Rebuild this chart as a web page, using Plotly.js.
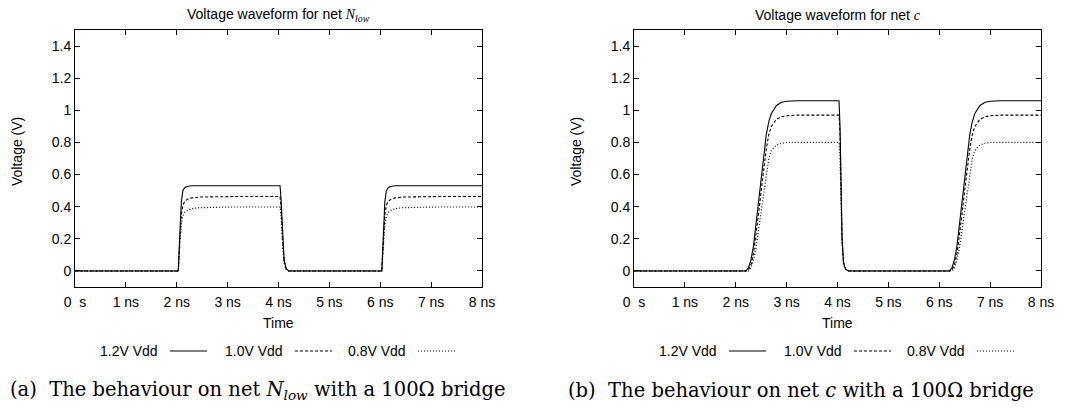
<!DOCTYPE html>
<html>
<head>
<meta charset="utf-8">
<script src="https://cdn.plot.ly/plotly-3.0.1.min.js"></script>
<style>html,body{margin:0;padding:0;background:#fff}#chart{width:1079px;height:410px}</style>
</head>
<body>
<div id="chart"></div>
<script>
// ---- Data ----
const seriesNames = ['1.2V Vdd', '1.0V Vdd', '0.8V Vdd'];
const tickVals = [0, 1, 2, 3, 4, 5, 6, 7, 8];
const tickText = ['0\u00a0\u00a0s', '1 ns', '2 ns', '3 ns', '4 ns', '5 ns', '6 ns', '7 ns', '8 ns'];
const yTickVals = [0, 0.2, 0.4, 0.6, 0.8, 1, 1.2, 1.4];
const yTickText = ['0', '0.2', '0.4', '0.6', '0.8', '1', '1.2', '1.4'];

// Net N_low (time in ns, voltage in V)
const timeLow = [0, 2.03, 2.06, 2.09, 2.12, 2.16, 2.22, 2.3, 2.45, 2.7, 3.1, 4.03, 4.05, 4.08, 4.11, 4.15, 4.2,
                 6.03, 6.06, 6.09, 6.12, 6.16, 6.22, 6.3, 6.45, 6.7, 7.1, 8.0];
const low12 = [0, 0, 0.22, 0.43, 0.50, 0.52, 0.527, 0.53, 0.53, 0.53, 0.53, 0.53, 0.45, 0.22, 0.07, 0.015, 0,
               0, 0.22, 0.43, 0.50, 0.52, 0.527, 0.53, 0.53, 0.53, 0.53, 0.53];
const low10 = [0, 0, 0.20, 0.35, 0.41, 0.435, 0.448, 0.455, 0.46, 0.462, 0.463, 0.463, 0.40, 0.20, 0.06, 0.012, 0,
               0, 0.20, 0.35, 0.41, 0.435, 0.448, 0.455, 0.46, 0.462, 0.463, 0.463];
const low08 = [0, 0, 0.17, 0.29, 0.34, 0.365, 0.38, 0.388, 0.394, 0.397, 0.398, 0.398, 0.34, 0.17, 0.05, 0.01, 0,
               0, 0.17, 0.29, 0.34, 0.365, 0.38, 0.388, 0.394, 0.397, 0.398, 0.398];

// Net c
const timeC = [0, 2.2, 2.25, 2.3, 2.35, 2.4, 2.45, 2.5, 2.55, 2.6, 2.65, 2.7, 2.8, 2.9, 3.0, 3.2, 3.5,
               4.03, 4.05, 4.07, 4.09, 4.12, 4.16, 4.22,
               6.2, 6.25, 6.3, 6.35, 6.4, 6.45, 6.5, 6.55, 6.6, 6.65, 6.7, 6.8, 6.9, 7.0, 7.2, 7.5, 8.0];
const c12 = [0, 0, 0.02, 0.07, 0.16, 0.30, 0.45, 0.60, 0.74, 0.85, 0.93, 0.98, 1.03, 1.05, 1.056, 1.06, 1.06,
             1.06, 0.90, 0.50, 0.20, 0.05, 0.01, 0,
             0, 0.02, 0.07, 0.16, 0.30, 0.45, 0.60, 0.74, 0.85, 0.93, 0.98, 1.03, 1.05, 1.056, 1.06, 1.06, 1.06];
const c10 = [0, 0, 0.005, 0.04, 0.11, 0.22, 0.36, 0.50, 0.64, 0.76, 0.85, 0.90, 0.945, 0.96, 0.966, 0.97, 0.97,
             0.97, 0.84, 0.47, 0.19, 0.05, 0.01, 0,
             0, 0.005, 0.04, 0.11, 0.22, 0.36, 0.50, 0.64, 0.76, 0.85, 0.90, 0.945, 0.96, 0.966, 0.97, 0.97, 0.97];
const c08 = [0, 0, 0, 0.02, 0.07, 0.15, 0.26, 0.38, 0.50, 0.61, 0.70, 0.75, 0.785, 0.795, 0.80, 0.80, 0.80,
             0.80, 0.70, 0.40, 0.16, 0.04, 0.01, 0,
             0, 0, 0.02, 0.07, 0.15, 0.26, 0.38, 0.50, 0.61, 0.70, 0.75, 0.785, 0.795, 0.80, 0.80, 0.80, 0.80];

// ---- Styles ----
const W = 1079, H = 410;
const px = v => v / W;
const py = v => (H - v) / H;
const dashes = ['solid', '3px,2px', '1px,2px'];
const widths = [1.1, 1.1, 1.2];
const sans = "'Liberation Sans', Arial, sans-serif";
const serif = "'DejaVu Serif', serif";
const fs = 14;

function mk(x, y, i, xa, ya) {
  return {x: x, y: y, xaxis: xa, yaxis: ya, type: 'scatter', mode: 'lines', name: seriesNames[i],
          showlegend: false, line: {color: '#000', width: widths[i], dash: dashes[i]}};
}
const traces = [
  mk(timeLow, low12, 0, 'x', 'y'), mk(timeLow, low10, 1, 'x', 'y'), mk(timeLow, low08, 2, 'x', 'y'),
  mk(timeC, c12, 0, 'x2', 'y2'), mk(timeC, c10, 1, 'x2', 'y2'), mk(timeC, c08, 2, 'x2', 'y2')
];

const leftDom = [75, 482], rightDom = [634, 1041];
const plotTop = 30, plotBottom = 287;
function xax(dom, anchor) {
  return {domain: [px(dom[0]), px(dom[1])], anchor: anchor, range: [0, 8], tickvals: tickVals, ticktext: tickText,
          ticks: 'inside', ticklen: 5, tickcolor: '#000', showline: true, linecolor: '#000', linewidth: 1,
          mirror: 'ticks', showgrid: false, zeroline: false, tickfont: {family: sans, size: fs, color: '#000'},
          ticklabelstandoff: 2, fixedrange: true};
}
function yax(anchor) {
  return {domain: [py(plotBottom), py(plotTop)], anchor: anchor, range: [-0.1, 1.5], tickvals: yTickVals, ticktext: yTickText,
          ticks: 'inside', ticklen: 5, tickcolor: '#000', showline: true, linecolor: '#000', linewidth: 1,
          mirror: 'ticks', showgrid: false, zeroline: false, tickfont: {family: sans, size: fs, color: '#000'},
          fixedrange: true};
}

const annotations = [];
const shapes = [];
function panel(dom, captionCenter, titleHtml, captionHtml) {
  const cx = (dom[0] + dom[1]) / 2;
  const off = dom[0] - 75;
  annotations.push({xref: 'paper', yref: 'paper', x: px(cx), y: py(15), text: titleHtml, showarrow: false,
                    xanchor: 'center', yanchor: 'middle', font: {family: sans, size: fs, color: '#000'}});
  annotations.push({xref: 'paper', yref: 'paper', x: px(cx), y: py(323), text: 'Time', showarrow: false,
                    xanchor: 'center', yanchor: 'middle', font: {family: sans, size: fs, color: '#000'}});
  annotations.push({xref: 'paper', yref: 'paper', x: px(17 + off), y: py(152), text: 'Voltage (V)', textangle: -90,
                    showarrow: false, xanchor: 'center', yanchor: 'middle', font: {family: sans, size: fs, color: '#000'}});
  annotations.push({xref: 'paper', yref: 'paper', x: px(captionCenter), y: py(390), text: captionHtml, showarrow: false,
                    xanchor: 'center', yanchor: 'middle', font: {family: serif, size: 19.5, color: '#000'}});
  const textRight = [160, 285, 408];
  for (let i = 0; i < 3; i++) {
    annotations.push({xref: 'paper', yref: 'paper', x: px(textRight[i] + off), y: py(351), text: seriesNames[i],
                      showarrow: false, xanchor: 'right', yanchor: 'middle', font: {family: sans, size: fs, color: '#000'}});
    shapes.push({type: 'line', xref: 'paper', yref: 'paper', x0: px(textRight[i] + off + 10), x1: px(textRight[i] + off + 47),
                 y0: py(351), y1: py(351), line: {color: '#000', width: widths[i], dash: dashes[i]}});
  }
}
panel(leftDom, 257, 'Voltage waveform for net <span style="font-family:\'Liberation Serif\',serif"><i>N<sub>low</sub></i></span>',
      '(a)  The behaviour on net <i>N<sub>low</sub></i> with a 100Ω bridge');
panel(rightDom, 801, 'Voltage waveform for net <span style="font-family:\'Liberation Serif\',serif"><i>c</i></span>',
      '(b)  The behaviour on net <i>c</i> with a 100Ω bridge');

const layout = {
  width: W, height: H, margin: {l: 0, r: 0, t: 0, b: 0}, paper_bgcolor: '#fff', plot_bgcolor: '#fff',
  showlegend: false,
  xaxis: xax(leftDom, 'y'), yaxis: yax('x'),
  xaxis2: xax(rightDom, 'y2'), yaxis2: yax('x2'),
  annotations: annotations, shapes: shapes
};
Plotly.newPlot('chart', traces, layout, {staticPlot: true, displayModeBar: false});
</script>
</body>
</html>
